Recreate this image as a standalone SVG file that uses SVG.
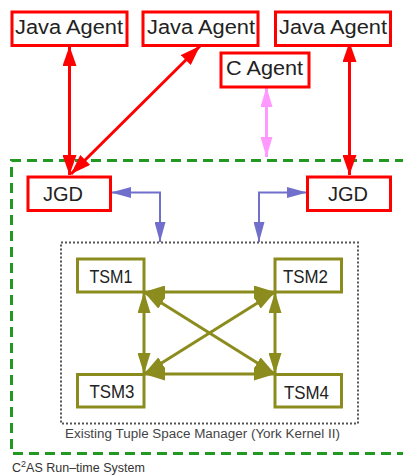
<svg xmlns="http://www.w3.org/2000/svg" width="403" height="476" viewBox="0 0 403 476">
<style>
.agent{fill:#fff;stroke:#ff0000;stroke-width:3}
.tsm{fill:#fff;stroke:#8c8c1e;stroke-width:3}
.lbl{font-family:"Liberation Sans",Arial,sans-serif;fill:#222}
.red{stroke:#ff0000;stroke-width:3;fill:none;marker-start:url(#mr);marker-end:url(#mr)}
.pink{stroke:#ff99ff;stroke-width:3;fill:none;marker-start:url(#mp);marker-end:url(#mp)}
.blue{stroke:#7070cc;stroke-width:2;fill:none;marker-start:url(#mb);marker-end:url(#mb)}
.olive{stroke:#8c8c1e;stroke-width:3;fill:none;marker-start:url(#mo);marker-end:url(#mo)}
</style>
<defs>
<marker id="mr" markerUnits="userSpaceOnUse" markerWidth="20" markerHeight="14" refX="20" refY="7" orient="auto-start-reverse"><path d="M0,0 L20,7 L0,14 z" fill="#ff0000"/></marker>
<marker id="mp" markerUnits="userSpaceOnUse" markerWidth="20" markerHeight="12" refX="20" refY="6" orient="auto-start-reverse"><path d="M0,0 L20,6 L0,12 z" fill="#ff99ff"/></marker>
<marker id="mb" markerUnits="userSpaceOnUse" markerWidth="20" markerHeight="11" refX="20" refY="5.5" orient="auto-start-reverse"><path d="M0,0 L20,5.5 L0,11 z" fill="#7070cc"/></marker>
<marker id="mo" markerUnits="userSpaceOnUse" markerWidth="21" markerHeight="13" refX="21" refY="6.5" orient="auto-start-reverse"><path d="M0,0 L21,6.5 L0,13 z" fill="#8c8c1e"/></marker>
</defs>
<rect width="403" height="476" fill="#fff"/>
<g id="runtime">
<path d="M405,160.5 H11.5 V453.5 H405" fill="none" stroke="#229922" stroke-width="3" stroke-dasharray="10,6"/>
<text class="lbl" x="12" y="472" font-size="12.5" fill="#333" style="fill:#333">C<tspan font-size="9" dy="-5">2</tspan><tspan dy="5">AS Run–time System</tspan></text>
</g>
<g id="yorkkernel">
<rect x="61" y="242.5" width="297" height="181" fill="none" stroke="#555" stroke-width="2" stroke-dasharray="2,2"/>
<text class="lbl" x="65" y="438" font-size="12" textLength="275" lengthAdjust="spacingAndGlyphs" style="fill:#444">Existing Tuple Space Manager (York Kernel II)</text>
</g>
<g id="connectors">
<line class="red" x1="69.5" y1="46" x2="69.5" y2="175"/>
<line class="red" x1="200" y1="46" x2="71" y2="174"/>
<line class="red" x1="349.5" y1="42" x2="349.5" y2="175"/>
<line class="pink" x1="266.5" y1="87" x2="266.5" y2="157"/>
<path class="blue" d="M111,192.5 H160 V242"/>
<path class="blue" d="M307,192.5 H259 V242"/>
<line class="olive" x1="144" y1="292" x2="275" y2="292"/>
<line class="olive" x1="144" y1="374" x2="275" y2="374"/>
<line class="olive" x1="144" y1="292" x2="144" y2="374"/>
<line class="olive" x1="275" y1="292" x2="275" y2="374"/>
<line class="olive" x1="144" y1="292" x2="275" y2="374"/>
<line class="olive" x1="275" y1="292" x2="144" y2="374"/>
</g>
<g id="java1"><rect class="agent" x="12" y="12" width="115" height="33.5"/><text class="lbl" x="15" y="33.5" font-size="20" textLength="108" lengthAdjust="spacingAndGlyphs">Java Agent</text></g>
<g id="java2"><rect class="agent" x="143" y="12" width="115" height="33.5"/><text class="lbl" x="147" y="33.5" font-size="20" textLength="108" lengthAdjust="spacingAndGlyphs">Java Agent</text></g>
<g id="java3"><rect class="agent" x="275.5" y="12" width="115" height="33.5"/><text class="lbl" x="279" y="33.5" font-size="20" textLength="108" lengthAdjust="spacingAndGlyphs">Java Agent</text></g>
<g id="cagent"><rect class="agent" x="221" y="53" width="88" height="34"/><text class="lbl" x="226" y="75" font-size="20" textLength="77" lengthAdjust="spacingAndGlyphs">C Agent</text></g>
<g id="jgd1"><rect class="agent" x="28" y="177" width="82.5" height="33.5"/><text class="lbl" x="43" y="201" font-size="20" textLength="40" lengthAdjust="spacingAndGlyphs">JGD</text></g>
<g id="jgd2"><rect class="agent" x="307.5" y="177" width="83" height="33.5"/><text class="lbl" x="328" y="201" font-size="20" textLength="40" lengthAdjust="spacingAndGlyphs">JGD</text></g>
<g id="tsm1"><rect class="tsm" x="77.5" y="259" width="66.5" height="33"/><text class="lbl" x="89.5" y="283" font-size="18" textLength="43" lengthAdjust="spacingAndGlyphs">TSM1</text></g>
<g id="tsm2"><rect class="tsm" x="275" y="259" width="66.5" height="33"/><text class="lbl" x="283" y="283" font-size="18" textLength="45" lengthAdjust="spacingAndGlyphs">TSM2</text></g>
<g id="tsm3"><rect class="tsm" x="77.5" y="374.5" width="66.5" height="32.5"/><text class="lbl" x="89.5" y="398" font-size="18" textLength="45" lengthAdjust="spacingAndGlyphs">TSM3</text></g>
<g id="tsm4"><rect class="tsm" x="275" y="374.5" width="66.5" height="32.5"/><text class="lbl" x="284" y="399" font-size="18" textLength="45" lengthAdjust="spacingAndGlyphs">TSM4</text></g>
</svg>
